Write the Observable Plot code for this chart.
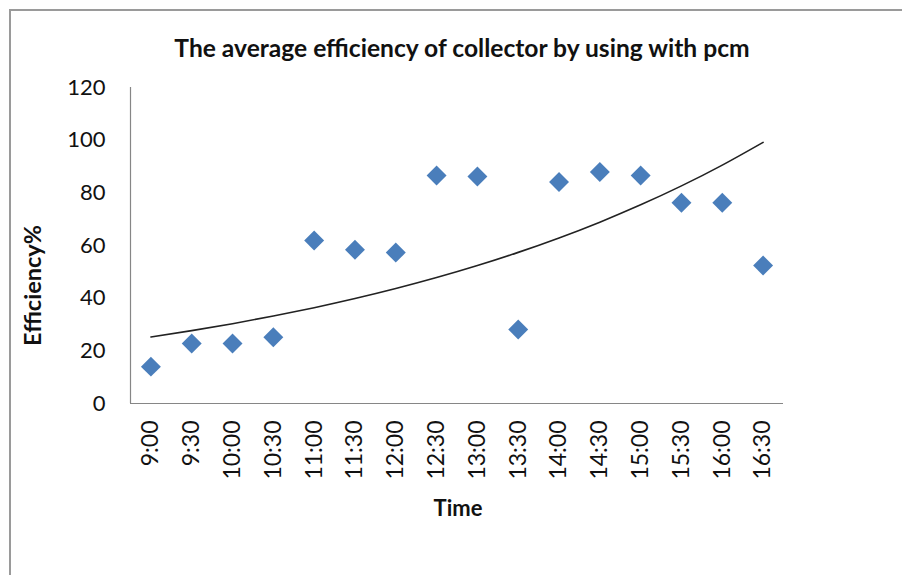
<!DOCTYPE html>
<html><head><meta charset="utf-8">
<script src="https://cdn.jsdelivr.net/npm/d3@7"></script>
<script src="https://cdn.jsdelivr.net/npm/@observablehq/plot@0.6"></script>
<style>
body{margin:0;background:#fff;}
#wrap{position:relative;width:902px;height:575px;overflow:hidden;font-family:Lato,sans-serif;background:#fff;}
#frame{position:absolute;left:9px;top:9px;width:900px;height:580px;border-left:2px solid #9a9a9a;border-top:2px solid #9a9a9a;pointer-events:none;}
#title{height:70px;position:relative;}
#title span{position:absolute;left:0;width:924px;text-align:center;top:33px;font-weight:bold;font-size:24.6px;color:#111;white-space:nowrap;}
svg{display:block;}
</style></head>
<body><div id="wrap"><div id="frame"></div><div id="title"><span>The average efficiency of collector by using with pcm</span></div><div id="chart"></div></div>
<script>
const times = ["9:00","9:30","10:00","10:30","11:00","11:30","12:00","12:30","13:00","13:30","14:00","14:30","15:00","15:30","16:00","16:30"];
const efficiency = [14, 22.8, 22.8, 25.2, 61.9, 58.4, 57.3, 86.6, 86.2, 28.1, 84.1, 87.9, 86.6, 76.2, 76.2, 52.4];
const yTicks = [0, 20, 40, 60, 80, 100, 120];

const data = times.map((t, i) => ({i, t, v: efficiency[i]}));

// exponential trendline (least squares on ln y), as Excel does
const n = data.length;
const mx = d3.mean(data, d => d.i);
const my = d3.mean(data, d => Math.log(d.v));
const b = d3.sum(data, d => (d.i - mx) * (Math.log(d.v) - my)) / d3.sum(data, d => (d.i - mx) ** 2);
const a = Math.exp(my - b * mx);
const trend = data.map(d => ({i: d.i, v: a * Math.exp(b * d.i)}));

const chart = Plot.plot({
  width: 902,
  height: 505,
  marginLeft: 130,
  marginRight: 119,
  marginTop: 17,
  marginBottom: 172,
  style: {fontFamily: "Lato, sans-serif", color: "#111", background: "#fff", overflow: "visible"},
  x: {type: "linear", domain: [-0.5, n - 0.5]},
  y: {domain: [0, 120]},
  marks: [
    Plot.axisY({ticks: yTicks, tickSize: 0, tickPadding: 25, fontSize: 22, label: null, fill: "#111"}),
    Plot.axisX({ticks: d3.range(n), tickFormat: i => times[i], tickRotate: -90, tickSize: 0, tickPadding: 17, fontSize: 23, label: null, fill: "#111"}),
    Plot.ruleX([-0.5], {stroke: "#868686", strokeWidth: 1.2}),
    Plot.ruleY([0], {stroke: "#868686", strokeWidth: 1.2}),
    Plot.line(trend, {x: "i", y: "v", stroke: "#222", strokeWidth: 1.6, curve: "natural"}),
    Plot.dot(data, {x: "i", y: "v", symbol: "diamond2", r: 9, fill: "#4a7ebb", stroke: "none"}),
    Plot.text(["Efficiency%"], {frameAnchor: "left", rotate: -90, dx: -97.5, dy: 40, textAnchor: "middle", lineAnchor: "middle", fontSize: 23.5, fontWeight: "bold", fill: "#111"}),
    Plot.text(["Time"], {frameAnchor: "bottom", dx: 1, dy: 105.5, textAnchor: "middle", lineAnchor: "middle", fontSize: 22, fontWeight: "bold", fill: "#111"})
  ]
});
document.getElementById("chart").appendChild(chart);
</script></body></html>
